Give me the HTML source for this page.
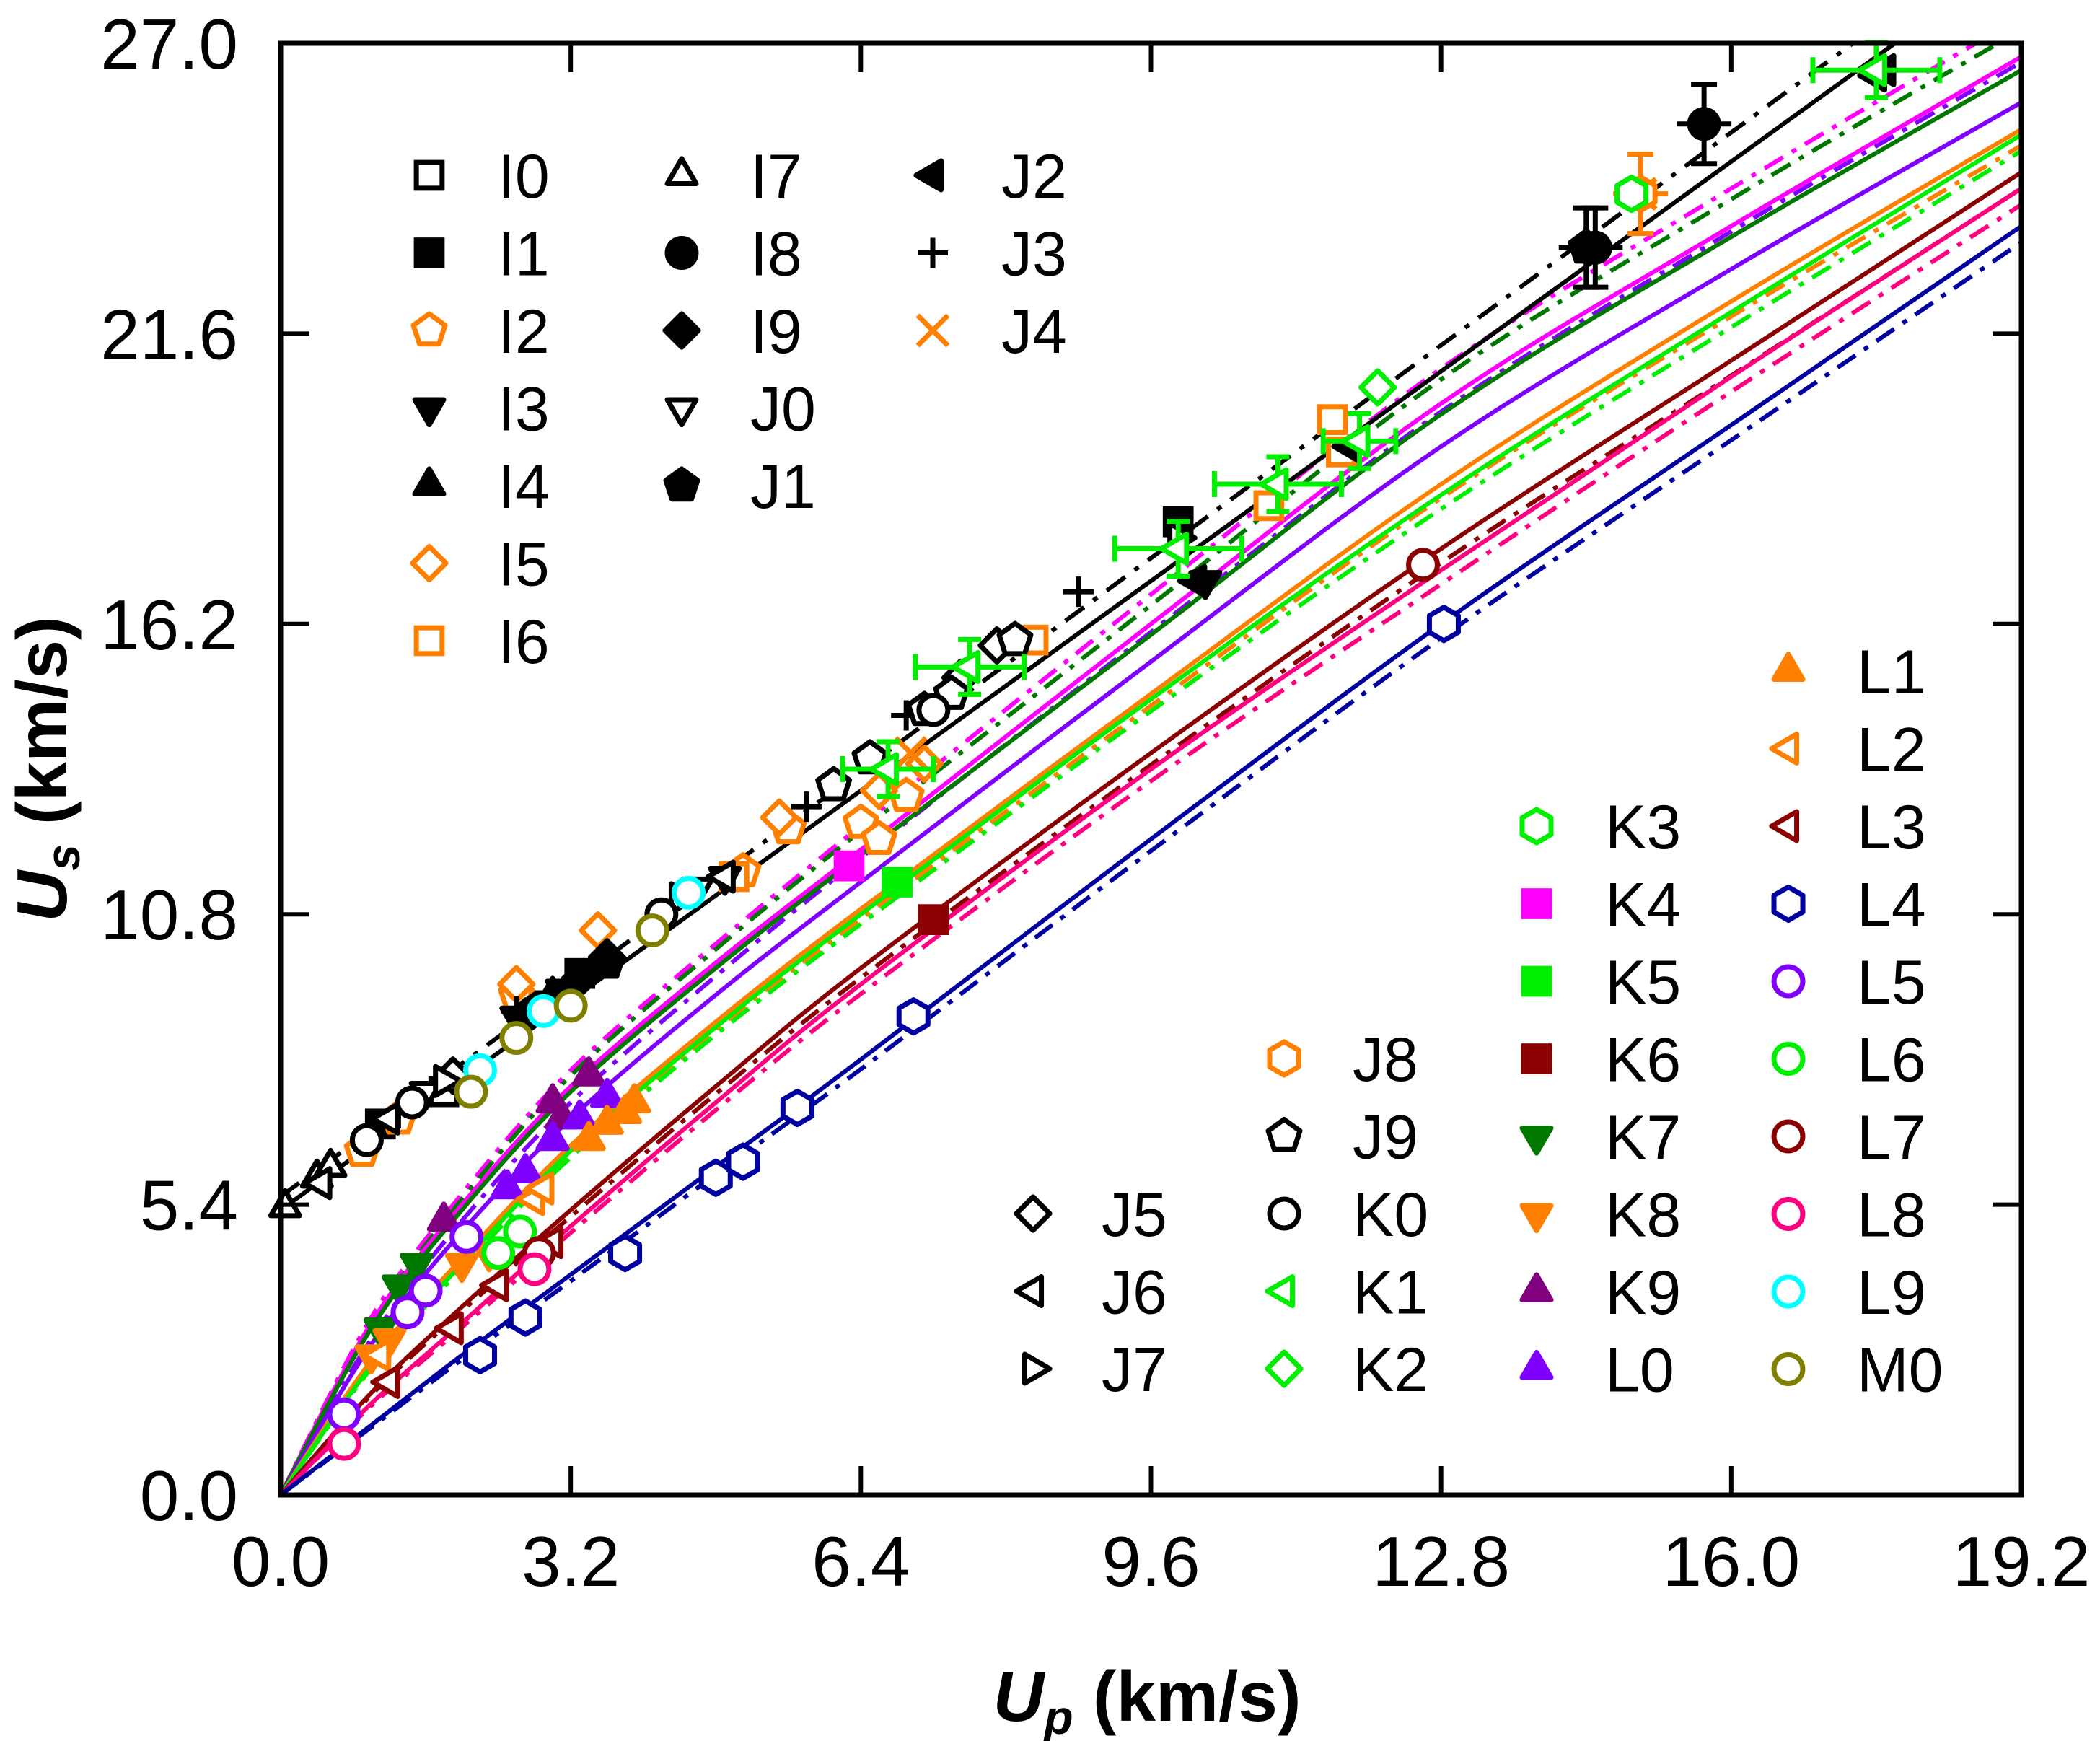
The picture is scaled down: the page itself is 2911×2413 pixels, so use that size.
<!DOCTYPE html>
<html><head><meta charset="utf-8"><style>
html,body{margin:0;padding:0;background:#fff}
svg{display:block}
text{font-family:"Liberation Sans",Arial,sans-serif}
</style></head><body>
<svg id="chart" width="2911" height="2413" viewBox="0 0 2911 2413" xmlns="http://www.w3.org/2000/svg">
<g id="lines"></g>
<g id="marks"></g>
<g id="axes"></g>
<g id="legend"></g>
<text x="1590" y="2385" text-anchor="middle" font-size="98" font-weight="bold"><tspan font-style="italic">U</tspan><tspan font-style="italic" font-size="66" dy="18">p</tspan><tspan dy="-18"> (km/s)</tspan></text>
<text transform="translate(92,1066) rotate(-90)" text-anchor="middle" font-size="98" font-weight="bold"><tspan font-style="italic">U</tspan><tspan font-style="italic" font-size="66" dy="18">s</tspan><tspan dy="-18"> (km/s)</tspan></text>
</svg>
<script>
const xTicks=["0.0","3.2","6.4","9.6","12.8","16.0","19.2"];
const yTicks=["0.0","5.4","10.8","16.2","21.6","27.0"];
// fit curves: Up values and Us values
const fitUp=[0,1,2,3.2,4.8,6.4,9.6,12.8,16,19.2];
const fitBlackUp=[0,19.2];
const fitBlack=[5.3,28.7];
const fitBlackDD=[5.55,29.3];
const fitMagenta=[0,3.2,5.4,7.6,9.9,12.0,16.2,20.3,23.6,26.75];
const fitDkGreen=[0,3.1,5.3,7.5,9.8,11.9,16.0,20.1,23.4,26.5];
const fitViolet=[0,2.8,4.9,7.0,9.3,11.4,15.5,19.5,22.8,25.9];
const fitOrange=[0,2.5,4.4,6.5,8.8,10.9,14.9,18.8,22.2,25.4];
const fitLime=[0,2.4,4.3,6.4,8.7,10.8,14.8,18.6,22.0,25.3];
const fitDkRed=[0,1.9,3.5,5.3,7.6,9.8,13.8,17.6,21.1,24.6];
const fitPink=[0,1.7,3.2,5.0,7.3,9.5,13.5,17.2,20.8,24.3];
const fitBlue=[0,1.3,2.6,4.1,6.1,8.1,12.2,16.2,19.9,23.6];
const ddOffsetTop=[0,0.1,0.2,0.3,0.35,0.45,0.55,0.65,0.7,0.75];
// scatter series (Up, Us)
const I0x=[1.8],I0y=[7.5];
const I1x=[1.1,2.8,3.3,9.9],I1y=[6.9,9.1,9.7,18.1];
const I2x=[0.9,1.3,2.6,5.1,5.6,6.4,6.6,6.9],I2y=[6.4,7.0,9.3,11.6,12.4,12.5,12.2,13.0];
const I3x=[2.6,3.1,10.2],I3y=[8.9,9.4,17.0];
const I4x=[3.0],I4y=[9.3];
const I5x=[2.6,3.5,5.5,6.6,7.1],I5y=[9.5,10.5,12.6,13.1,13.6];
const I6x=[11.6,11.7,10.9,8.3,5.0],I6y=[20.0,19.4,18.4,15.9,11.5];
const I7x=[0.05,0.4,0.55],I7y=[5.35,5.9,6.1];
const I8x=[14.5,15.7],I8y=[23.2,25.5];
const I9x=[2.7,3.3,3.6],I9y=[8.9,9.6,10.0];
const J0x=[1.6,4.6,4.9],J0y=[7.5,11.3,11.5];
const J1x=[14.4,2.8,3.6],J1y=[23.2,9.0,9.9];
const J2x=[10.1,11.8,17.7],J2y=[17.0,19.5,26.5];
const J3x=[1.3,2.6,5.8,6.9,8.8,14.4],J3y=[7.1,9.0,12.8,14.5,16.8,23.3];
const J4x=[6.95,15.0],J4y=[13.8,24.2];
const J5x=[1.9,7.5,7.9],J5y=[7.8,15.2,15.8];
const J6x=[0.45,1.2,4.9,17.6],J6y=[5.8,7.0,11.5,26.4];
const J7x=[1.8,4.4,9.9],J7y=[7.7,11.1,17.8];
const J8x=[15.0],J8y=[24.2];
const J9x=[6.1,6.5,7.1,7.4,8.1],J9y=[13.2,13.7,14.6,14.9,15.9];
const K0x=[0.95,1.45,4.2,7.2],K0y=[6.6,7.3,10.8,14.6];
const K1x=[6.7,7.6,9.9,11.0,11.9,17.6],K1y=[13.5,15.4,17.6,18.8,19.6,26.5];
const K1err=[0.5,0.6,0.7,0.7,0.4,0.7];
const K2x=[12.1],K2y=[20.6];
const K3x=[14.9],K3y=[24.2];
const K4x=[6.27],K4y=[11.7];
const K5x=[6.8],K5y=[11.4];
const K6x=[7.2],K6y=[10.7];
const K7x=[1.1,1.3,1.5],K7y=[3.1,3.9,4.3];
const K8x=[1.0,1.2,2.0,2.3],K8y=[2.6,2.9,4.3,4.5];
const K9x=[1.8,3.0,3.1,3.4],K9y=[5.1,7.3,7.0,7.8];
const L0x=[2.5,2.7,3.0,3.3,3.6],L0y=[5.7,6.0,6.6,7.0,7.4];
const L1x=[3.4,3.6,3.8,3.9],L1y=[6.6,6.9,7.1,7.3];
const L2x=[1.1,2.8,2.9],L2y=[2.6,5.5,5.7];
const L3x=[1.2,1.9,2.4,3.0],L3y=[2.1,3.1,3.9,4.7];
const L4x=[2.2,2.7,3.8,4.8,5.1,5.7,6.98,12.83],L4y=[2.6,3.3,4.5,5.9,6.2,7.2,8.9,16.2];
const L5x=[0.7,1.4,1.6,2.05],L5y=[1.5,3.4,3.8,4.8];
const L6x=[2.4,2.64],L6y=[4.5,4.9];
const L7x=[2.85,12.6],L7y=[4.5,17.3];
const L8x=[0.7,2.8],L8y=[0.95,4.2];
const L9x=[2.2,2.9,4.5],L9y=[7.9,9.0,11.2];
const M0x=[2.1,2.6,3.2,4.1],M0y=[7.5,8.5,9.1,10.5];

const NS="http://www.w3.org/2000/svg";
const X0=389,X1=2802,Y0=2072,Y1=60;
const sx=v=>X0+(v/19.2)*(X1-X0);
const sy=v=>Y0-(v/27)*(Y0-Y1);
function mk(tag,attrs,parent){const e=document.createElementNS(NS,tag);for(const k in attrs)e.setAttribute(k,attrs[k]);parent.appendChild(e);return e;}
const C={blk:"#000",or:"#ff8000",lime:"#00ee00",mag:"#ff00ff",dg:"#007800",dr:"#8b0000",pur:"#800080",vio:"#8000ff",pink:"#ff0080",blue:"#0000a0",cyan:"#00ffff",olive:"#808000"};

const lines=document.getElementById('lines');
function curve(xs,ys,color,dash,name){
  let d="";
  for(let i=0;i<xs.length;i++){
    const px=sx(xs[i]),py=sy(ys[i]);
    if(i===0){d+="M"+px+","+py;continue;}
    const x0=sx(xs[Math.max(0,i-2)]),y0=sy(ys[Math.max(0,i-2)]);
    const xa=sx(xs[i-1]),ya=sy(ys[i-1]);
    const x3=sx(xs[Math.min(xs.length-1,i+1)]),y3=sy(ys[Math.min(xs.length-1,i+1)]);
    const c1x=xa+(px-x0)/6,c1y=ya+(py-y0)/6,c2x=px-(x3-xa)/6,c2y=py-(y3-ya)/6;
    d+=" C"+c1x+","+c1y+" "+c2x+","+c2y+" "+px+","+py;
  }
  const p=mk('path',{d:d,fill:"none",stroke:color,"stroke-width":6,"clip-path":"url(#clip)"},lines);
  if(dash)p.setAttribute('stroke-dasharray',dash);
  
  
}
const defs=mk('defs',{},document.getElementById('chart'));
const cp=mk('clipPath',{id:"clip"},defs);
mk('rect',{x:X0,y:Y1,width:X1-X0,height:Y0-Y1},cp);
const fits=[[fitMagenta,C.mag,"magenta"],[fitDkGreen,C.dg,"darkgreen"],[fitViolet,C.vio,"violet"],[fitOrange,C.or,"orange"],[fitLime,C.lime,"lime"],[fitDkRed,C.dr,"darkred"],[fitPink,C.pink,"pink"],[fitBlue,C.blue,"blue"]];
fits.forEach((f,k)=>{
  const sign=k<3?1:-0.4;
  const dd=f[0].map((v,i)=>v+sign*ddOffsetTop[i]);
  curve(fitUp,dd,f[1],"30,14,7,14","fit-"+f[2]+"-dashdot");
});
fits.forEach(f=>curve(fitUp,f[0],f[1],null,"fit-"+f[2]));
curve(fitBlackUp,fitBlackDD,C.blk,"32,16,7,16","fit-black-dashdot");
curve(fitBlackUp,fitBlack,C.blk,null,"fit-black");

function marker(g,type,cx,cy,color,filled,r){
  r=r||21;const sw=7;let e;
  const fill=filled?color:"#fff";
  const poly=(pts)=>mk('polygon',{points:pts.map(p=>(cx+p[0])+","+(cy+p[1])).join(" "),fill:fill,stroke:color,"stroke-width":sw,"stroke-linejoin":"round"},g);
  const reg=(n,rot)=>{const p=[];for(let i=0;i<n;i++){const a=rot+i*2*Math.PI/n;p.push([r*1.1*Math.cos(a),r*1.1*Math.sin(a)]);}return poly(p);};
  switch(type){
    case 'sq':e=mk('rect',{x:cx-r*0.85,y:cy-r*0.85,width:r*1.7,height:r*1.7,fill:fill,stroke:color,"stroke-width":sw},g);break;
    case 'ci':e=mk('circle',{cx:cx,cy:cy,r:r*0.95,fill:fill,stroke:color,"stroke-width":sw},g);break;
    case 'tu':e=reg(3,-Math.PI/2);break;
    case 'td':e=reg(3,Math.PI/2);break;
    case 'tl':e=reg(3,Math.PI);break;
    case 'tr':e=reg(3,0);break;
    case 'di':e=reg(4,0);break;
    case 'pe':e=reg(5,-Math.PI/2);break;
    case 'hx':e=reg(6,Math.PI/2);break;
    case 'pl':e=mk('path',{d:`M${cx-r},${cy}H${cx+r}M${cx},${cy-r}V${cy+r}`,stroke:color,"stroke-width":sw,fill:"none"},g);break;
    case 'x':e=mk('path',{d:`M${cx-r},${cy-r}L${cx+r},${cy+r}M${cx+r},${cy-r}L${cx-r},${cy+r}`,stroke:color,"stroke-width":sw,fill:"none"},g);break;
  }
  return e;
}
const series=[
 ["I0",I0x,I0y,'sq',C.blk,false],["I1",I1x,I1y,'sq',C.blk,true],["I2",I2x,I2y,'pe',C.or,false],["I3",I3x,I3y,'td',C.blk,true],
 ["I4",I4x,I4y,'tu',C.blk,true],["I5",I5x,I5y,'di',C.or,false],["I6",I6x,I6y,'sq',C.or,false],["I7",I7x,I7y,'tu',C.blk,false],
 ["I8",I8x,I8y,'ci',C.blk,true],["I9",I9x,I9y,'di',C.blk,true],["J0",J0x,J0y,'td',C.blk,false],["J1",J1x,J1y,'pe',C.blk,true],
 ["J2",J2x,J2y,'tl',C.blk,true],["J3",J3x,J3y,'pl',C.blk,false],["J4",J4x,J4y,'x',C.or,false],
 ["J5",J5x,J5y,'di',C.blk,false],["J6",J6x,J6y,'tl',C.blk,false],["J7",J7x,J7y,'tr',C.blk,false],
 ["J8",J8x,J8y,'hx',C.or,false],["J9",J9x,J9y,'pe',C.blk,false],["K0",K0x,K0y,'ci',C.blk,false],["K1",K1x,K1y,'tl',C.lime,false],["K2",K2x,K2y,'di',C.lime,false],
 ["K3",K3x,K3y,'hx',C.lime,false],["K4",K4x,K4y,'sq',C.mag,true],["K5",K5x,K5y,'sq',C.lime,true],["K6",K6x,K6y,'sq',C.dr,true],["K7",K7x,K7y,'td',C.dg,true],
 ["K8",K8x,K8y,'td',C.or,true],["K9",K9x,K9y,'tu',C.pur,true],["L0",L0x,L0y,'tu',C.vio,true],
 ["L1",L1x,L1y,'tu',C.or,true],["L2",L2x,L2y,'tl',C.or,false],["L3",L3x,L3y,'tl',C.dr,false],["L4",L4x,L4y,'hx',C.blue,false],["L5",L5x,L5y,'ci',C.vio,false],
 ["L6",L6x,L6y,'ci',C.lime,false],["L7",L7x,L7y,'ci',C.dr,false],["L8",L8x,L8y,'ci',C.pink,false],["L9",L9x,L9y,'ci',C.cyan,false],["M0",M0x,M0y,'ci',C.olive,false]
];
const marks=document.getElementById('marks');
series.forEach(s=>{
  const g=mk('g',{},marks);
  
  
  for(let i=0;i<s[1].length;i++){
    const cx=sx(s[1][i]),cy=sy(s[2][i]);
    if(s[0]==="K1"){
      const ex=K1err[i]*(X1-X0)/19.2;
      const eb=mk('path',{d:`M${cx-ex},${cy}H${cx+ex}M${cx-ex},${cy-18}V${cy+18}M${cx+ex},${cy-18}V${cy+18}M${cx},${cy-38}V${cy+38}M${cx-16},${cy-38}H${cx+16}M${cx-16},${cy+38}H${cx+16}`,stroke:C.lime,"stroke-width":7,fill:"none"},g);
      
      
    }
    if(s[0]==="I8"||(s[0]==="J1"&&i===0)||s[0]==="J8"){
      const eb=mk('path',{d:`M${cx},${cy-55}V${cy+55}M${cx-18},${cy-55}H${cx+18}M${cx-18},${cy+55}H${cx+18}M${cx-38},${cy}H${cx+38}`,stroke:s[4],"stroke-width":7,fill:"none"},g);
      
      
    }
    const m=marker(g,s[3],cx,cy,s[4],s[5]);
    
    
  }
});
// axes
const axes=document.getElementById('axes');
const fr=mk('rect',{x:X0,y:Y1,width:X1-X0,height:Y0-Y1,fill:"none",stroke:"#000","stroke-width":7},axes);


xTicks.forEach((t,i)=>{
  const x=sx(i*3.2);
  const tk=mk('path',{d:`M${x},${Y0}V${Y0-40}M${x},${Y1}V${Y1+40}`,stroke:"#000","stroke-width":6},axes);
  
  
  const tx=mk('text',{x:x,y:2198,"text-anchor":"middle","font-size":98},axes);
  tx.textContent=t;
  
  
});
yTicks.forEach((t,i)=>{
  const y=sy(i*5.4);
  const tk=mk('path',{d:`M${X0},${y}H${X0+40}M${X1},${y}H${X1-40}`,stroke:"#000","stroke-width":6},axes);
  
  
  const tx=mk('text',{x:330,y:y+35,"text-anchor":"end","font-size":98},axes);
  tx.textContent=t;
  
  
});
// legend
const legend=document.getElementById('legend');
const look={};series.forEach(s=>look[s[0]]=s);
const cols=[
 [595,690,243,["I0","I1","I2","I3","I4","I5","I6"]],
 [945,1040,243,["I7","I8","I9","J0","J1"]],
 [1293,1388,243,["J2","J3","J4"]],
 [1432,1527,1682,["J5","J6","J7"]],
 [1780,1875,1467,["J8","J9","K0","K1","K2"]],
 [2130,2225,1145,["K3","K4","K5","K6","K7","K8","K9","L0"]],
 [2479,2574,930,["L1","L2","L3","L4","L5","L6","L7","L8","L9","M0"]]
];
cols.forEach(c=>{
  c[3].forEach((n,j)=>{
    const s=look[n];const y=c[2]+j*107.5;
    const g=mk('g',{},legend);
    
    
    marker(g,s[3],c[0],y,s[4],s[5]);
    const t=mk('text',{x:c[1],y:y+31,"font-size":86},g);
    t.textContent=n;
  });
});
</script>
</body></html>
